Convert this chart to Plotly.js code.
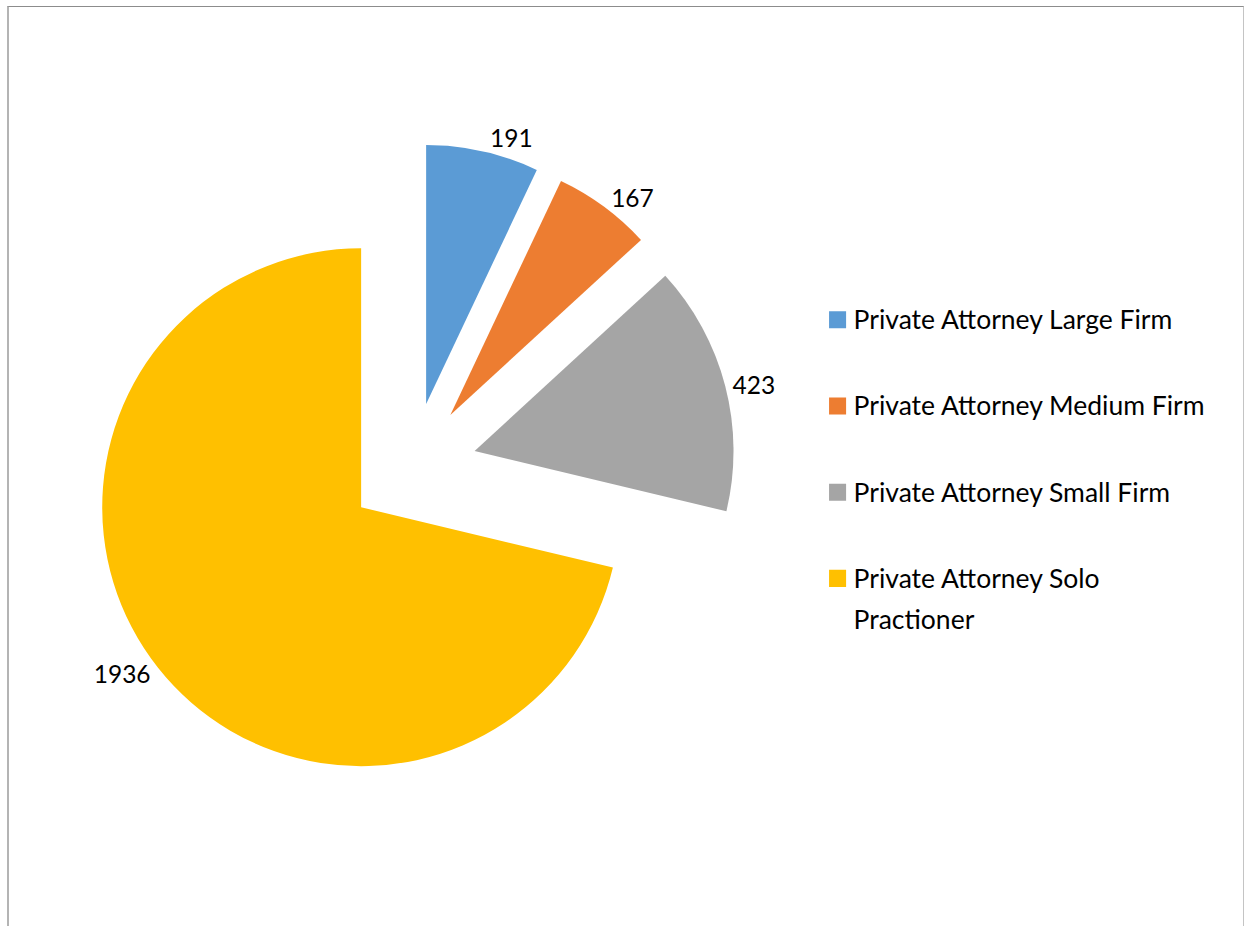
<!DOCTYPE html>
<html>
<head>
<meta charset="utf-8">
<script src="https://cdn.plot.ly/plotly-3.0.1.min.js"></script>
<style>
  html, body { margin: 0; padding: 0; background: #fff; overflow: hidden; }
  #wrap { position: relative; width: 1244px; height: 926px; }
  #chart { width: 1244px; height: 926px; }
  #frame { position: absolute; left: 7px; top: 6px; width: 1234px; height: 960px;
           border-top: 1px solid #8c8c8c; border-left: 2px solid #b4b4b4; border-right: 1px solid #c4c4c4;
           pointer-events: none; }
</style>
</head>
<body>
<div id="wrap">
  <div id="chart"></div>
  <div id="frame"></div>
</div>
<script>
// ---- data ----
const categories = [
  'Private Attorney Large Firm',
  'Private Attorney Medium Firm',
  'Private Attorney Small Firm',
  'Private Attorney Solo Practioner'
];
const legendLines = [
  ['Private Attorney Large Firm'],
  ['Private Attorney Medium Firm'],
  ['Private Attorney Small Firm'],
  ['Private Attorney Solo', 'Practioner']
];
const values = [191, 167, 423, 1936];
const colors = ['#5B9BD5', '#ED7D31', '#A5A5A5', '#FFC000'];

// legend labels: visible text in a span, padded to two lines so items are evenly spaced
const labels = legendLines.map(lines => {
  const parts = lines.map(l => '<span style="font-size:26.5px">' + l + '</span>');
  while (parts.length < 2) parts.push('\u00a0');
  return parts.join('<br>');
});

const trace = {
  type: 'pie',
  labels: labels,
  values: values,
  customdata: categories,
  hovertemplate: '%{customdata}: %{value}<extra></extra>',
  marker: { colors: colors, line: { width: 0 } },
  pull: values.map(() => 0.25),
  sort: false,
  direction: 'clockwise',
  rotation: 0,
  textinfo: 'value',
  textposition: 'outside',
  outsidetextfont: { family: 'Lato, Carlito, sans-serif', size: 24.5, color: '#000' },
  domain: { x: [0.0707, 0.5916], y: [0.146, 0.845] }
};

const layout = {
  width: 1244,
  height: 926,
  margin: { l: 0, r: 0, t: 0, b: 0, pad: 0 },
  paper_bgcolor: '#ffffff',
  showlegend: true,
  legend: {
    x: 0.654, xanchor: 'left',
    y: 0.6874, yanchor: 'top',
    valign: 'top',
    font: { family: 'Lato, Carlito, sans-serif', size: 32, color: '#000' },
    bgcolor: 'rgba(0,0,0,0)'
  },
  font: { family: 'Lato, Carlito, sans-serif', color: '#000' }
};

Plotly.newPlot('chart', [trace], layout, { displayModeBar: false, staticPlot: true }).then(gd => {
  gd.querySelectorAll('.legendpoints path.legendpie').forEach(p => {
    const t = p.getAttribute('transform') || '';
    p.setAttribute('transform', t + ' translate(4,3) scale(1.42)');
  });
});
</script>
</body>
</html>
